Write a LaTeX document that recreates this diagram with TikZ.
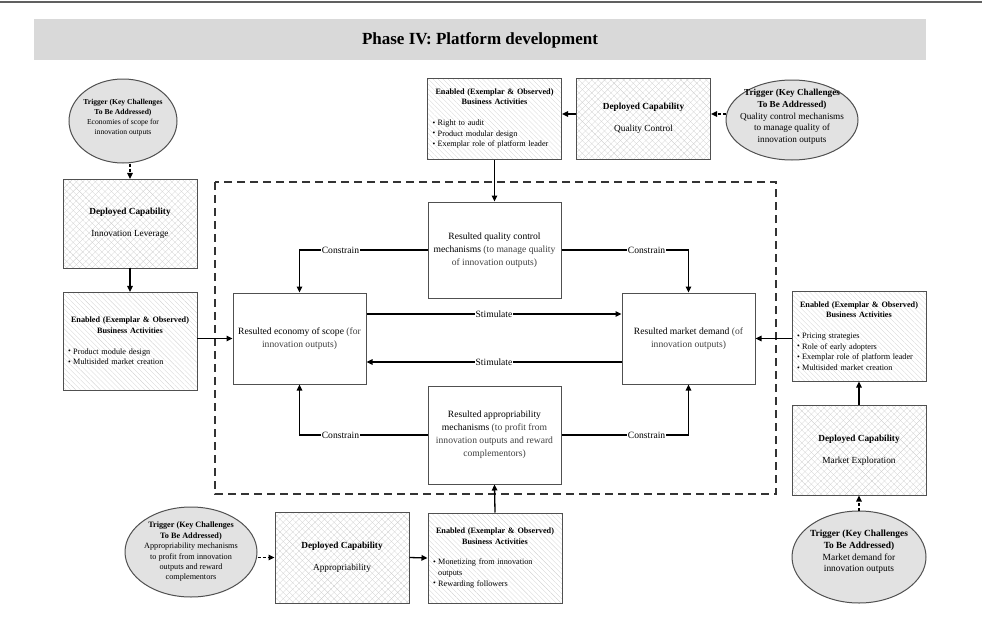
\documentclass[tikz,border=0pt]{standalone}
\usepackage{fontspec}
\setmainfont{Liberation Serif}
\usetikzlibrary{shapes.geometric,arrows.meta,patterns.meta}
\definecolor{bordc}{HTML}{505050}
\definecolor{hatchc}{HTML}{C8C8C8}
\definecolor{ellfill}{HTML}{E2E2E2}
\definecolor{bandc}{HTML}{D9D9D9}
\newcommand{\bul}{\raisebox{0.2pt}{\scalebox{0.95}{\textbullet}}\hspace{2.5pt}}
\tikzset{
  box/.style={draw=bordc, line width=1pt, inner sep=0pt, align=center},
  central/.style={box, fill=white, minimum width=133pt, font=\fontsize{9.6}{13}\selectfont},
  depbox/.style={box, minimum width=134pt,
     preaction={pattern={Lines[angle=45,distance=4.5pt,line width=0.2pt]}, pattern color=hatchc},
     pattern={Lines[angle=-45,distance=4.5pt,line width=0.2pt]}, pattern color=hatchc,
     font=\fontsize{9.3}{12}\selectfont},
  enbox/.style={box, minimum width=134pt, text width=124pt, align=left,
     pattern={Lines[angle=-45,distance=3.5pt,line width=0.2pt]}, pattern color=hatchc,
     font=\fontsize{8.2}{10.6}\selectfont},
  trig/.style={draw=bordc, line width=1pt, ellipse, inner sep=0pt, fill=ellfill},
  trigtext/.style={align=center, inner sep=0pt},
  arr/.style={line width=1.3pt, -{Triangle[length=6pt,width=5.5pt]}},
  darr/.style={arr, dash pattern=on 3pt off 2pt},
  lbl/.style={fill=white, inner sep=0.6pt, font=\fontsize{9.6}{11}\selectfont},
}
\newcommand{\enhead}{\makebox[\linewidth][c]{\bfseries Enabled (Exemplar \& Observed)}\\
  \makebox[\linewidth][c]{\bfseries Business Activities}\\[10pt]}
\begin{document}
\begin{tikzpicture}[x=1pt,y=-1pt]
\useasboundingbox (0,0) rectangle (982,621);
% top rule and title band
\draw[line width=2.5pt, color=gray!75!black] (0,2) -- (982,2);
\fill[bandc] (34,19) rectangle (926,60);
\node[font=\fontsize{17}{20}\selectfont\bfseries, inner sep=0pt] (title) at (480,40) {Phase IV: Platform development};
% dashed frame
\draw[line width=1.2pt, color=black!80, dash pattern=on 8pt off 5pt] (215,182) rectangle (776,494);

% central boxes
\node[central, minimum height=96pt] (qc) at (494.5,250) {Resulted quality control\\mechanisms {\color{black!75}(to manage quality}\\{\color{black!75}of innovation outputs)}};
\node[central, minimum height=91pt] (econ) at (299.5,338.5) {Resulted economy of scope {\color{black!75}(for}\\{\color{black!75}innovation outputs)}};
\node[central, minimum height=91pt] (market) at (688.5,338.5) {Resulted market demand {\color{black!75}(of}\\{\color{black!75}innovation outputs)}};
\node[central, minimum height=98pt] (approp) at (494.5,435) {Resulted appropriability\\mechanisms {\color{black!75}(to profit from}\\{\color{black!75}innovation outputs and reward}\\{\color{black!75}complementors)}};

% left column
\node[trig, minimum width=108pt, minimum height=84pt] (t1) at (123,121) {};
\node[trigtext, font=\fontsize{7.6}{10.1}\selectfont] (t1l) at (123,118) {\textbf{Trigger (Key Challenges}\\\textbf{To Be Addressed)}\\Economies of scope for\\innovation outputs};
\node[depbox, minimum height=89pt] (d1) at (130,223.5) {\textbf{Deployed Capability}\\[10pt]Innovation Leverage};
\node[enbox, minimum height=98pt] (e1) at (130,341) {\enhead\bul Product module design\\\bul Multisided market creation};

% top row
\node[enbox, minimum height=81pt] (e2) at (494.5,118.5) {\enhead\bul Right to audit\\\bul Product modular design\\\bul Exemplar role of platform leader};
\node[depbox, minimum height=81pt] (d2) at (643.5,118.5) {\textbf{Deployed Capability}\\[10pt]Quality Control};
\node[trig, minimum width=132pt, minimum height=80pt] (t2) at (792,120) {};
\node[trigtext, font=\fontsize{9.2}{11.7}\selectfont] (t2l) at (792,117) {\textbf{Trigger (Key Challenges}\\\textbf{To Be Addressed)}\\Quality control mechanisms\\to manage quality of\\innovation outputs};

% right column
\node[enbox, minimum height=90pt] (e3) at (859,336) {\enhead\bul Pricing strategies\\\bul Role of early adopters\\\bul Exemplar role of platform leader\\\bul Multisided market creation};
\node[depbox, minimum height=90pt] (d3) at (859,450) {\textbf{Deployed Capability}\\[10pt]Market Exploration};
\node[trig, minimum width=134pt, minimum height=92pt] (t3) at (859,557) {};
\node[trigtext, font=\fontsize{9.4}{11.8}\selectfont] (t3l) at (859,552) {\textbf{Trigger (Key Challenges}\\\textbf{To Be Addressed)}\\Market demand for\\innovation outputs};

% bottom row
\node[trig, minimum width=132pt, minimum height=90pt] (t4) at (191,552) {};
\node[trigtext, font=\fontsize{8.2}{10.4}\selectfont] (t4l) at (191,552) {\textbf{Trigger (Key Challenges}\\\textbf{To Be Addressed)}\\Appropriability mechanisms\\to profit from innovation\\outputs and reward\\complementors};
\node[depbox, minimum height=91pt] (d4) at (342,557.5) {\textbf{Deployed Capability}\\[10pt]Appropriability};
\node[enbox, minimum height=90pt] (e4) at (495,558) {\enhead\bul Monetizing from innovation\\\phantom{\bul}outputs\\\bul Rewarding followers};

% connectors
\draw[darr] (t1.south -| d1.north) -- (d1.north);
\draw[arr] (d1.south) -- (e1.north);
\draw[arr] (e1.east |- econ.west) -- (econ.west);
\draw[arr] (e2.south) -- (qc.north);
\draw[arr] (d2.west |- 0,114) -- (e2.east |- 0,114);
\draw[darr] (t2.west |- 0,114) -- (d2.east |- 0,114);
\draw[arr] (e3.west |- market.east) -- (market.east);
\draw[arr] (d3.north) -- (e3.south);
\draw[darr] (t3.north) -- (d3.south);
\draw[darr] (t4.east |- d4.west) -- (d4.west);
\draw[arr] (d4.east) -- (e4.west);
\draw[arr] (e4.north) -- (approp.south);

\draw[arr] (econ.east |- 0,314) -- node[lbl] (s1) {Stimulate} (market.west |- 0,314);
\draw[arr] (market.west |- 0,362) -- node[lbl] (s2) {Stimulate} (econ.east |- 0,362);

\draw[arr] (qc.west) -- node[lbl, pos=0.68] (c1) {Constrain} (qc.west -| econ.north) -- (econ.north);
\draw[arr] (qc.east) -- node[lbl, pos=0.67] (c2) {Constrain} (qc.east -| market.north) -- (market.north);
\draw[arr] (approp.west) -- node[lbl, pos=0.68] (c3) {Constrain} (approp.west -| econ.south) -- (econ.south);
\draw[arr] (approp.east) -- node[lbl, pos=0.67] (c4) {Constrain} (approp.east -| market.south) -- (market.south);
\end{tikzpicture}
\end{document}
